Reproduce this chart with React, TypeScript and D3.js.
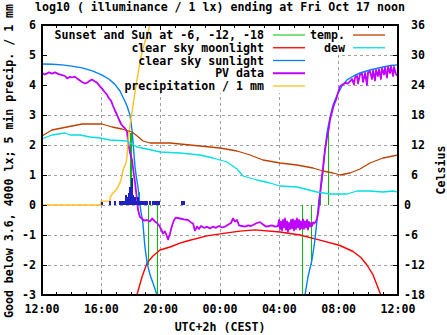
import React from "react";
import * as d3 from "d3";

// hours after 12:00 (Thu noon) -> value (log10 lx)
const hourLabels = ["12:00", "16:00", "20:00", "00:00", "04:00", "08:00", "12:00"];
const leftTicks = [-3, -2, -1, 0, 1, 2, 3, 4, 5, 6];
const rightTicks = [-18, -12, -6, 0, 6, 12, 18, 24, 30, 36];

const sunEvening: [number, number][] = [
  [0, 4.7], [0.7, 4.69], [1.35, 4.67], [2.0, 4.63], [2.7, 4.57], [3.4, 4.47], [4.05, 4.33],
  [4.5, 4.2], [4.9, 4.03], [5.26, 3.8], [5.45, 3.6], [5.6, 3.45], [5.73, 3.3], [5.93, 3.0],
  [6.07, 2.5], [6.17, 1.9], [6.27, 1.27], [6.37, 0.9], [6.47, 0.6], [6.6, 0.0], [6.7, -0.3],
  [6.8, -0.6], [6.94, -1.4], [7.05, -1.8], [7.15, -2.07], [7.3, -2.35], [7.48, -2.6],
  [7.62, -2.8], [7.75, -3.0], [7.8, -3.1],
];
const sunMorning: [number, number][] = [
  [17.6, -3.1], [17.73, -3.0], [17.93, -2.4], [18.2, -1.83], [18.4, -1.17], [18.54, -0.5],
  [18.67, 0.17], [18.88, 0.83], [19.01, 1.5], [19.21, 2.4], [19.42, 2.93], [19.6, 3.3],
  [19.75, 3.5], [19.89, 3.65], [20.2, 3.95], [20.56, 4.17], [21.0, 4.3], [21.44, 4.4],
  [22.11, 4.5], [22.99, 4.6], [23.5, 4.65], [24, 4.67],
];
const moon: [number, number][] = [
  [6.38, -3.05], [6.4, -3.0], [6.74, -2.4], [7.08, -1.93], [7.48, -1.7], [7.96, -1.5],
  [8.63, -1.4], [9.3, -1.27], [9.78, -1.2], [11.12, -1.03], [12.47, -0.93], [13.35, -0.87],
  [14.36, -0.83], [16.05, -0.9], [17.39, -1.0], [18.74, -1.17], [20.09, -1.35], [20.97, -1.55],
  [21.5, -1.75], [21.91, -2.0], [22.32, -2.33], [22.79, -2.93], [22.85, -3.05],
];
const pv: [number, number][] = [
  [0, 4.4], [0.2, 4.35], [0.47, 4.42], [0.67, 4.38], [0.88, 4.42], [1.08, 4.37], [1.35, 4.33],
  [1.55, 4.3], [1.69, 4.22], [1.89, 4.27], [2.02, 4.25], [2.22, 4.28], [2.36, 4.22], [2.56, 4.15],
  [2.7, 4.1], [2.9, 4.05], [3.03, 4.07], [3.24, 4.15], [3.37, 4.18], [3.57, 4.12], [3.71, 4.08],
  [3.91, 3.95], [4.05, 3.88], [4.25, 3.75], [4.38, 3.68], [4.52, 3.55], [4.65, 3.48], [4.79, 3.3],
  [4.92, 3.15], [5.06, 3.0], [5.19, 2.85], [5.33, 2.7], [5.46, 2.62], [5.6, 2.55], [5.73, 2.45],
  [5.8, 2.1], [5.93, 1.75], [6.07, 1.5], [6.13, 1.25], [6.27, 0.75], [6.4, 0.2], [6.47, -0.15],
  [6.6, -0.4], [6.74, -0.45], [6.88, -0.52], [7.08, -0.5], [7.28, -0.55], [7.42, -0.45],
  [7.62, -0.55], [7.75, -0.6], [7.89, -0.68], [8.02, -0.8], [8.16, -0.95], [8.29, -0.88],
  [8.43, -1.05], [8.5, -1.15], [8.63, -0.95], [8.76, -0.7], [8.9, -0.5], [9.03, -0.42],
  [9.3, -0.45], [9.57, -0.48], [9.84, -0.5], [10.05, -0.58], [10.18, -0.62], [10.31, -0.85],
  [10.45, -0.72], [10.58, -0.8], [10.72, -0.7], [10.92, -0.76], [11.12, -0.73], [11.33, -0.78],
  [11.53, -0.72], [11.73, -0.76], [11.93, -0.7], [12.14, -0.75], [12.34, -0.72], [12.54, -0.66],
  [12.74, -0.6], [12.88, -0.45], [13.01, -0.55], [13.15, -0.5], [13.28, -0.68], [13.48, -0.7],
  [13.69, -0.72], [13.89, -0.68], [14.09, -0.7], [14.29, -0.65], [14.49, -0.6], [14.7, -0.57],
  [14.9, -0.65], [15.1, -0.72], [15.3, -0.7], [15.51, -0.68], [15.71, -0.72], [15.91, -0.7],
  [15.98, -0.5], [16.05, -0.8], [16.11, -0.55], [16.18, -0.85], [16.25, -0.5], [16.31, -0.75],
  [16.38, -0.45], [16.45, -0.82], [16.52, -0.55], [16.58, -0.9], [16.65, -0.6], [16.72, -0.8],
  [16.79, -0.5], [16.85, -0.78], [16.92, -0.48], [16.99, -0.85], [17.06, -0.52], [17.12, -0.8],
  [17.19, -0.45], [17.26, -0.75], [17.33, -0.5], [17.39, -0.82], [17.46, -0.55], [17.53, -0.78],
  [17.6, -0.48], [17.66, -0.8], [17.73, -0.55], [17.8, -0.75], [17.87, -0.5], [17.93, -0.82],
  [18.0, -0.56], [18.07, -0.72], [18.14, -0.6], [18.2, -0.7], [18.27, -0.58], [18.34, -0.62],
  [18.47, -0.55], [18.54, -0.45], [18.61, -0.3], [18.67, -0.05], [18.74, 0.3], [18.81, 0.7],
  [18.88, 1.0], [18.94, 1.2], [19.01, 1.55], [19.08, 1.85], [19.15, 2.05], [19.21, 2.25],
  [19.28, 2.4], [19.35, 2.6], [19.42, 2.85], [19.55, 3.1], [19.69, 3.35], [19.82, 3.5],
  [19.96, 3.75], [20.09, 3.95], [20.22, 4.0], [20.43, 4.07], [20.63, 4.05], [20.76, 4.12],
  [20.9, 4.2], [21.03, 4.02], [21.1, 4.25], [21.24, 4.3], [21.3, 4.05], [21.44, 4.35],
  [21.57, 4.38], [21.64, 4.1], [21.78, 4.4], [21.91, 4.0], [21.98, 4.42], [22.11, 4.45],
  [22.25, 4.2], [22.32, 4.48], [22.45, 4.15], [22.52, 4.5], [22.65, 4.3], [22.72, 4.52],
  [22.85, 4.2], [22.92, 4.55], [23.06, 4.35], [23.12, 4.58], [23.26, 4.25], [23.33, 4.6],
  [23.46, 4.4], [23.53, 4.62], [23.67, 4.3], [23.73, 4.6], [23.87, 4.35], [24, 4.3],
];
const precipTotal: [number, number][] = [
  [0, 0], [3.97, 0], [3.98, 0.13], [4.58, 0.13], [4.6, 0.27], [4.79, 0.4], [4.99, 0.5],
  [5.12, 0.6], [5.33, 0.83], [5.46, 1.17], [5.66, 1.4], [5.73, 1.6], [5.8, 2.17], [5.87, 2.4],
  [6.0, 2.9], [6.07, 3.1], [6.27, 3.77], [6.54, 4.57], [6.74, 5.1], [7.08, 5.67], [7.28, 6.0],
  [7.5, 6.3],
];
const precip5min: [number, number][] = [
  [4.05, 0.1], [4.58, 0.13], [4.92, 0.13], [5.26, 0.13], [5.33, 0.13], [5.46, 0.13], [5.6, 0.13],
  [5.66, 0.33], [5.73, 0.13], [5.8, 0.27], [5.87, 0.4], [5.93, 0.6], [6.0, 0.43], [6.07, 0.9],
  [6.13, 0.33], [6.2, 0.23], [6.27, 0.27], [6.34, 0.13], [6.47, 0.27], [6.6, 0.13], [6.74, 0.13],
  [6.81, 0.13], [6.94, 0.13], [7.08, 0.13], [7.28, 0.13], [7.48, 0.13], [7.62, 0.13],
  [7.75, 0.13], [7.89, 0.13], [9.44, 0.13], [9.57, 0.13],
];
const sunEventHours = [6.0, 6.56, 7.17, 7.78, 17.55, 18.16, 18.74, 19.3];
const sunEventValues = [2.4, 0.45, -2, -3, -3, -2, 0.45, 2.4];
const temp: [number, number][] = [
  [0, 13.8], [0.67, 15.0], [1.35, 15.4], [2.02, 15.8], [2.7, 16.2], [3.37, 16.2], [4.05, 16.2],
  [4.72, 15.6], [5.39, 15.2], [6.07, 14.6], [6.5, 13.6], [6.81, 12.8], [7.28, 12.4], [8.63, 12.4],
  [9.3, 12.2], [10.65, 11.8], [12.0, 11.4], [13.15, 10.8], [14.02, 10.0], [14.9, 9.0],
  [16.05, 8.4], [17.19, 8.0], [18.27, 7.4], [18.94, 6.8], [19.62, 6.4], [20.09, 6.0],
  [20.76, 6.4], [21.44, 7.2], [22.11, 8.4], [22.99, 9.4], [24, 10.0],
];
const dew: [number, number][] = [
  [0, 13.2], [0.67, 14.0], [1.55, 14.4], [1.89, 14.0], [2.56, 14.0], [3.24, 13.6], [3.91, 13.4],
  [4.58, 13.0], [5.73, 12.8], [6.4, 11.6], [7.08, 11.2], [7.96, 10.6], [9.3, 10.4],
  [10.65, 10.0], [11.53, 9.4], [12.47, 8.6], [13.15, 7.2], [13.55, 5.8], [14.49, 5.0],
  [15.37, 4.4], [16.05, 3.8], [17.19, 3.6], [18.54, 2.6], [19.42, 2.2], [20.56, 2.2],
  [21.24, 2.8], [22.11, 2.8], [22.99, 2.6], [23.66, 2.8], [24, 2.6],
];

const C = {
  green: "#00c000", red: "#ff0000", blue: "#0080ff", purple: "#c000ff",
  orange: "#ffc020", temp: "#c04000", dew: "#00e0e0", bars: "#2020c0", grid: "#a0a0a0",
};
const FONT = "'DejaVu Sans Mono', 'Liberation Mono', monospace";

export default function App() {
  const L = 42, R = 398, T = 25, B = 295;
  const x = d3.scaleLinear().domain([0, 24]).range([L, R]);
  const y = d3.scaleLinear().domain([-3, 6]).range([B, T]);
  const y2 = d3.scaleLinear().domain([-18, 36]).range([B, T]);
  const ln = (pts: [number, number][], ys: any) =>
    d3.line<[number, number]>().x((d) => x(d[0])).y((d) => ys(d[1]))(pts) || "";
  const hours = d3.range(0, 25);
  const barW = x(5 / 60) - x(0) + 0.3;
  const txt = { fontFamily: FONT, fontWeight: "bold" as const, fontSize: 11.6, fill: "#000" };

  const leg1 = [
    { label: "Sunset and Sun at -6, -12, -18", color: C.green, w: 1 },
    { label: "clear sky moonlight", color: C.red, w: 1.3 },
    { label: "clear sky sunlight", color: C.blue, w: 1.3 },
    { label: "PV data", color: C.purple, w: 2 },
    { label: "precipitation / 1 mm", color: C.orange, w: 1.3 },
  ];
  const leg2 = [
    { label: "temp.", color: C.temp, w: 1.3 },
    { label: "dew", color: C.dew, w: 1.3 },
  ];
  const rowY = (i: number) => 35 + i * 12.75;

  return (
    <svg width={447} height={335} style={{ position: "absolute", left: 0, top: 0, background: "#fff" }}>
      <defs>
        <clipPath id="plot">
          <rect x={L} y={T} width={R - L} height={B - T} />
        </clipPath>
      </defs>
      <rect x={0} y={0} width={447} height={335} fill="#fff" />
      {/* grid */}
      <g stroke={C.grid} strokeWidth={1} strokeDasharray="3,3" shapeRendering="crispEdges">
        {[1, 2, 3, 4, 5].map((i) => (
          <line key={"gv" + i} x1={x(i * 4)} x2={x(i * 4)} y1={T} y2={B} />
        ))}
        {[-2, -1, 0, 1, 2, 3, 4, 5].map((v) => (
          <line key={"gh" + v} x1={L} x2={R} y1={y(v)} y2={y(v)} />
        ))}
      </g>
      {/* key backgrounds */}
      <rect x={L + 1} y={T + 1} width={338 - L - 1} height={93 - T - 1} fill="#fff" />
      <rect x={338} y={T + 1} width={R - 338 - 1} height={54 - T - 1} fill="#fff" />

      <g clipPath="url(#plot)" fill="none" strokeLinejoin="round">
        {sunEventHours.map((h, i) => (
          <line key={"s" + i} x1={x(h)} x2={x(h)} y1={y(0)} y2={y(sunEventValues[i])} stroke={C.green} strokeWidth={1.3} shapeRendering="crispEdges" />
        ))}
        <path d={ln(moon, y)} stroke={C.red} strokeWidth={1.4} />
        <path d={ln(sunEvening, y)} stroke={C.blue} strokeWidth={1.4} />
        <path d={ln(sunMorning, y)} stroke={C.blue} strokeWidth={1.4} />
        <path d={ln(pv, y)} stroke={C.purple} strokeWidth={1.8} />
        <path d={ln(precipTotal, y)} stroke={C.orange} strokeWidth={1.4} />
        {precip5min.map((d, i) => (
          <rect key={"b" + i} x={x(d[0]) - barW / 2} y={y(d[1])} width={barW} height={y(0) - y(d[1])} fill={C.bars} shapeRendering="crispEdges" />
        ))}
        <path d={ln(temp, y2)} stroke={C.temp} strokeWidth={1.3} />
        <path d={ln(dew, y2)} stroke={C.dew} strokeWidth={1.3} />
      </g>

      {/* border */}
      <rect x={L} y={T} width={R - L} height={B - T} fill="none" stroke="#000" strokeWidth={1.5} shapeRendering="crispEdges" />
      {/* ticks */}
      <g stroke="#000" strokeWidth={1} shapeRendering="crispEdges">
        {hours.map((h) => {
          const len = h % 4 === 0 ? 5 : 3;
          return (
            <g key={"t" + h}>
              <line x1={x(h)} x2={x(h)} y1={B} y2={B - len} />
              <line x1={x(h)} x2={x(h)} y1={T} y2={T + len} />
            </g>
          );
        })}
        {leftTicks.map((v) => (
          <line key={"lt" + v} x1={L} x2={L + 5} y1={y(v)} y2={y(v)} />
        ))}
        {rightTicks.map((v) => (
          <line key={"rt" + v} x1={R} x2={R - 5} y1={y2(v)} y2={y2(v)} />
        ))}
      </g>

      {/* tick labels */}
      {leftTicks.map((v) => (
        <text key={"ll" + v} x={36} y={y(v) + 4} textAnchor="end" {...txt}>{String(v)}</text>
      ))}
      {rightTicks.map((v) => (
        <text key={"rl" + v} x={v > 0 ? 411 : 404} y={y2(v) + 4} textAnchor="start" {...txt}>{String(v)}</text>
      ))}
      {hourLabels.map((s, i) => (
        <text key={"xl" + i} x={x(i * 4)} y={313} textAnchor="middle" {...txt}>{s}</text>
      ))}

      {/* titles */}
      <text x={(L + R) / 2} y={11} textAnchor="middle" {...txt}>log10 ( illuminance / 1 lx) ending at Fri Oct 17 noon</text>
      <text x={(L + R) / 2} y={331} textAnchor="middle" {...txt}>UTC+2h (CEST)</text>
      <text transform={`translate(13,161) rotate(-90)`} textAnchor="middle" {...txt}>Good below 3.6, 4000 lx; 5 min precip. / 1 mm</text>
      <text transform={`translate(445,170) rotate(-90)`} textAnchor="middle" {...txt}>Celsius</text>

      {/* legend */}
      {leg1.map((e, i) => (
        <g key={"k1" + i}>
          <text x={264} y={rowY(i) + 4} textAnchor="end" {...txt}>{e.label}</text>
          <line x1={273} x2={305} y1={rowY(i)} y2={rowY(i)} stroke={e.color} strokeWidth={e.w} />
        </g>
      ))}
      {leg2.map((e, i) => (
        <g key={"k2" + i}>
          <text x={345} y={rowY(i) + 4} textAnchor="end" {...txt}>{e.label}</text>
          <line x1={353} x2={385} y1={rowY(i)} y2={rowY(i)} stroke={e.color} strokeWidth={e.w} />
        </g>
      ))}
    </svg>
  );
}
